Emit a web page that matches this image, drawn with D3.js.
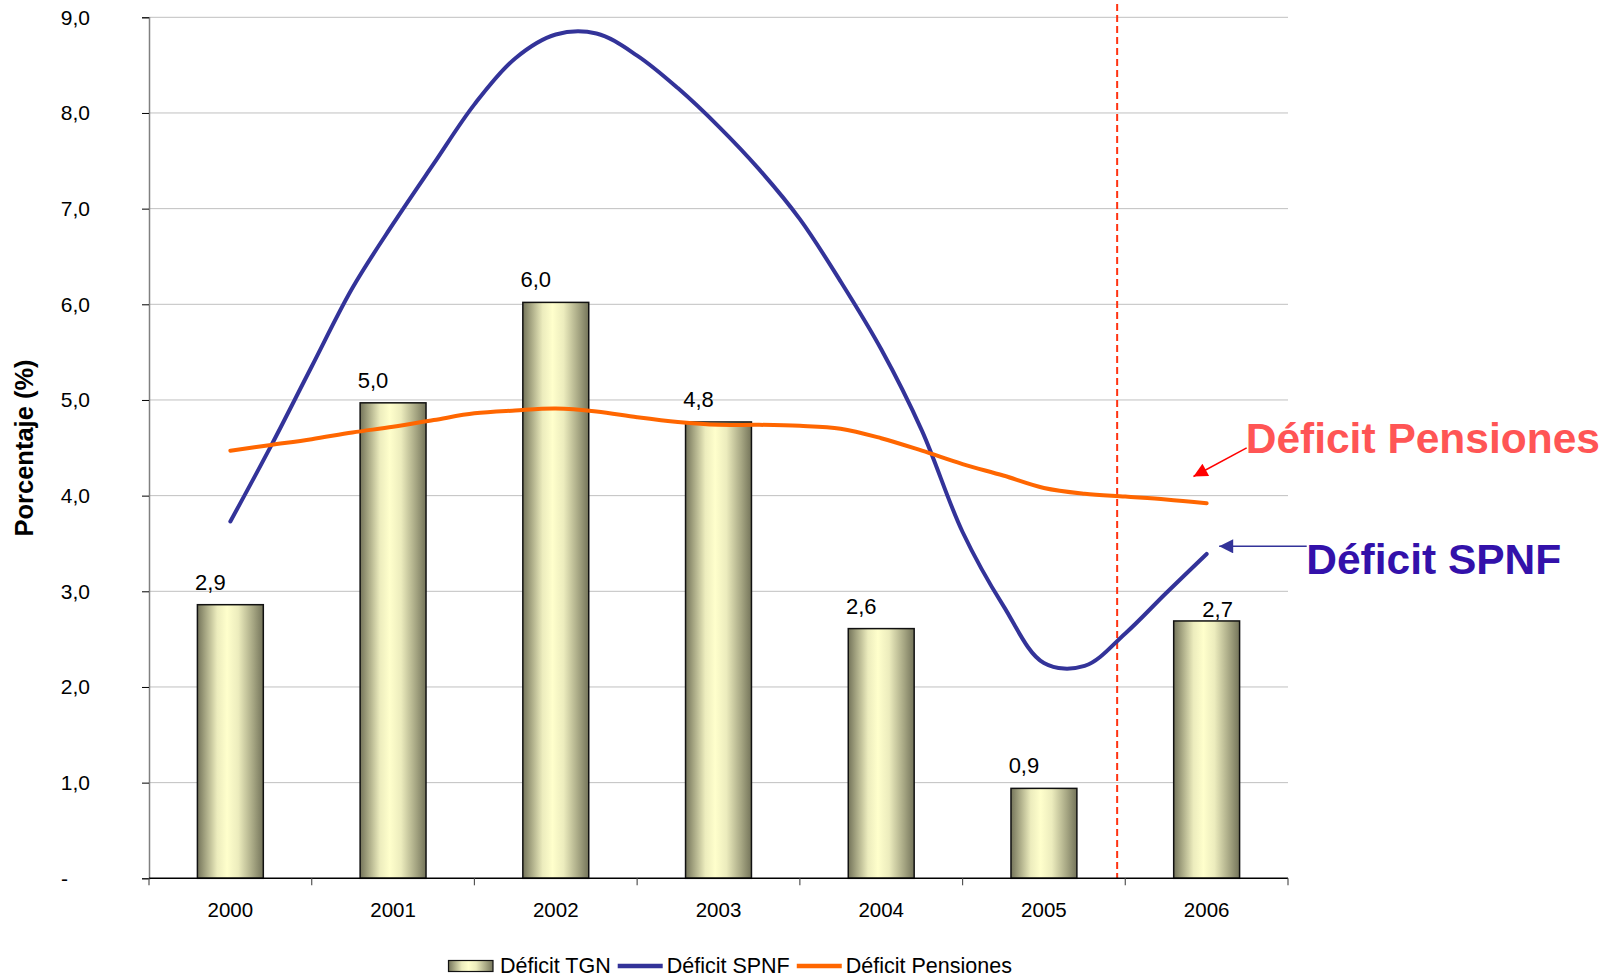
<!DOCTYPE html>
<html>
<head>
<meta charset="utf-8">
<script src="https://cdn.jsdelivr.net/npm/d3@7"></script>
<style>
  body { margin: 0; background: #ffffff; }
  svg { display: block; }
  text { font-family: "Liberation Sans", Arial, sans-serif; }
</style>
</head>
<body>
<svg id="chart" width="1618" height="978"></svg>
<script>
// Annual categories and the TGN deficit bars (% of GDP)
const years = ["2000", "2001", "2002", "2003", "2004", "2005", "2006"];
const deficitTGN = [2.86, 4.97, 6.02, 4.77, 2.61, 0.94, 2.69];

// Quarterly periods for the two smoothed lines
const periods = [
  2000, 2000.25, 2000.5, 2000.75,
  2001, 2001.25, 2001.5, 2001.75,
  2002, 2002.25, 2002.5, 2002.75,
  2003, 2003.25, 2003.5, 2003.75,
  2004, 2004.25, 2004.5, 2004.75,
  2005, 2005.25, 2005.5, 2005.75,
  2006
];
const deficitSPNF = [
  3.73, 4.52, 5.35, 6.17,
  6.84, 7.47, 8.09, 8.57,
  8.82, 8.83, 8.60, 8.26,
  7.86, 7.41, 6.89, 6.24,
  5.53, 4.68, 3.62, 2.85,
  2.25, 2.22, 2.56, 2.98,
  3.39
];
const deficitPensiones = [
  4.47, 4.53, 4.59, 4.66,
  4.72, 4.79, 4.86, 4.89,
  4.91, 4.88, 4.82, 4.77,
  4.74, 4.74, 4.73, 4.70,
  4.60, 4.47, 4.33, 4.21,
  4.08, 4.02, 3.99, 3.96,
  3.92
];

const yTicks = [0, 1, 2, 3, 4, 5, 6, 7, 8, 9];
const seriesNames = ["Déficit TGN", "Déficit SPNF", "Déficit Pensiones"];
const axisTitle = "Porcentaje (%)";
const cutoffYear = 2005.45;

const svg = d3.select("#chart");
const W = 1618, H = 978;
svg.append("rect").attr("width", W).attr("height", H).attr("fill", "#ffffff");

const plot = { left: 149, right: 1288, top: 17.3, bottom: 878.3 };

const x = d3.scaleBand().domain(years).range([plot.left, plot.right]).paddingInner(0).paddingOuter(0);
const bw = x.bandwidth();
const xYear = d3.scaleLinear()
  .domain([2000, 2006])
  .range([x("2000") + bw / 2, x("2006") + bw / 2]);
const y = d3.scaleLinear().domain([0, 9]).range([plot.bottom, plot.top]);

const fmt = v => d3.format(".1f")(v).replace(".", ",");

// Bar fill: horizontal shading, dark olive edges with a pale yellow core
const defs = svg.append("defs");
const grad = defs.append("linearGradient").attr("id", "barShade")
  .attr("x1", "0%").attr("x2", "100%").attr("y1", "0%").attr("y2", "0%");
[[0, "#74745a"], [0.12, "#a5a582"], [0.3, "#ececbd"], [0.45, "#ffffcc"],
 [0.62, "#ececbd"], [0.85, "#a5a582"], [1, "#74745a"]]
  .forEach(([o, c]) => grad.append("stop").attr("offset", o).attr("stop-color", c));

// Horizontal gridlines
svg.append("g").selectAll("line")
  .data(yTicks.filter(d => d > 0))
  .join("line")
  .attr("x1", plot.left).attr("x2", plot.right)
  .attr("y1", d => y(d)).attr("y2", d => y(d))
  .attr("stroke", "#c0c0c0").attr("stroke-width", 1);

// Bars
const barW = bw * 0.405;
svg.append("g").selectAll("rect")
  .data(deficitTGN)
  .join("rect")
  .attr("x", (d, i) => x(years[i]) + bw / 2 - barW / 2)
  .attr("y", d => y(d))
  .attr("width", barW)
  .attr("height", d => y(0) - y(d))
  .attr("fill", "url(#barShade)")
  .attr("stroke", "#111111")
  .attr("stroke-width", 1.5);

// Bar value labels
const labelNudge = { "2006": [31, 11] };
svg.append("g").selectAll("text")
  .data(deficitTGN)
  .join("text")
  .attr("x", (d, i) => x(years[i]) + bw / 2 - 20 + (labelNudge[years[i]] ? labelNudge[years[i]][0] : 0))
  .attr("y", (d, i) => y(d) - 15 + (labelNudge[years[i]] ? labelNudge[years[i]][1] : 0))
  .attr("text-anchor", "middle")
  .attr("font-size", 22)
  .attr("fill", "#000")
  .text(d => fmt(d));

// Vertical dashed cutoff line
svg.append("line")
  .attr("x1", xYear(cutoffYear)).attr("x2", xYear(cutoffYear))
  .attr("y1", 4).attr("y2", plot.bottom)
  .attr("stroke", "#ff3311").attr("stroke-width", 2)
  .attr("stroke-dasharray", "7,4");

// Smoothed lines
const line = d3.line()
  .x((d, i) => xYear(periods[i]))
  .y(d => y(d))
  .curve(d3.curveCatmullRom.alpha(0.5));

svg.append("path").datum(deficitSPNF)
  .attr("d", line).attr("fill", "none")
  .attr("stroke", "#333399").attr("stroke-width", 4)
  .attr("stroke-linecap", "round").attr("stroke-linejoin", "round");

svg.append("path").datum(deficitPensiones)
  .attr("d", line).attr("fill", "none")
  .attr("stroke", "#ff6600").attr("stroke-width", 4)
  .attr("stroke-linecap", "round").attr("stroke-linejoin", "round");

// Y axis
const yAxis = svg.append("g")
  .attr("transform", `translate(${plot.left},0)`)
  .call(d3.axisLeft(y).tickValues(yTicks).tickSize(7).tickPadding(52)
    .tickFormat(d => d === 0 ? "-" : fmt(d)));
yAxis.select(".domain").attr("stroke", "#808080").attr("stroke-width", 1.5);
yAxis.selectAll(".tick line").attr("stroke", "#000");
yAxis.selectAll(".tick text")
  .attr("font-family", "Liberation Sans, Arial, sans-serif")
  .attr("font-size", 21).attr("fill", "#000");
yAxis.selectAll(".tick").filter(d => d === 0).select("text")
  .attr("text-anchor", "start").attr("x", -88);

// X axis line, boundary ticks and year labels
svg.append("line")
  .attr("x1", plot.left).attr("x2", plot.right)
  .attr("y1", y(0)).attr("y2", y(0))
  .attr("stroke", "#000").attr("stroke-width", 1.5);
const boundaries = years.map(yr => x(yr)).concat([x.range()[1]]);
svg.append("g").selectAll("line")
  .data(boundaries)
  .join("line")
  .attr("x1", d => d).attr("x2", d => d)
  .attr("y1", y(0)).attr("y2", y(0) + 7)
  .attr("stroke", "#555").attr("stroke-width", 1.2);
svg.append("g").selectAll("text")
  .data(years)
  .join("text")
  .attr("x", d => x(d) + bw / 2)
  .attr("y", 917)
  .attr("text-anchor", "middle")
  .attr("font-size", 20.5)
  .attr("fill", "#000")
  .text(d => d);

// Y axis title
svg.append("text")
  .attr("transform", `translate(33,448) rotate(-90)`)
  .attr("text-anchor", "middle")
  .attr("font-size", 25.5)
  .attr("font-weight", "bold")
  .attr("fill", "#000")
  .text(axisTitle);

// Callout annotations
defs.append("marker").attr("id", "headRed")
  .attr("viewBox", "0 0 10 10").attr("refX", 10).attr("refY", 5)
  .attr("markerUnits", "userSpaceOnUse")
  .attr("markerWidth", 17).attr("markerHeight", 14)
  .attr("orient", "auto")
  .append("path").attr("d", "M0,0 L10,5 L0,10 Z").attr("fill", "#ff0000");
defs.append("marker").attr("id", "headBlue")
  .attr("viewBox", "0 0 10 10").attr("refX", 10).attr("refY", 5)
  .attr("markerUnits", "userSpaceOnUse")
  .attr("markerWidth", 15).attr("markerHeight", 14)
  .attr("orient", "auto")
  .append("path").attr("d", "M0,0 L10,5 L0,10 Z").attr("fill", "#333399");

svg.append("line")
  .attr("x1", xYear(2006.246)).attr("y1", y(4.50))
  .attr("x2", xYear(2005.919)).attr("y2", y(4.20))
  .attr("stroke", "#ff0000").attr("stroke-width", 1.5)
  .attr("marker-end", "url(#headRed)");
svg.append("text")
  .attr("x", xYear(2006.240)).attr("y", y(4.445))
  .attr("font-size", 42.5).attr("font-weight", "bold")
  .attr("fill", "#ff5555")
  .text(seriesNames[2]);

svg.append("line")
  .attr("x1", xYear(2006.615)).attr("y1", y(3.47))
  .attr("x2", xYear(2006.077)).attr("y2", y(3.47))
  .attr("stroke", "#333399").attr("stroke-width", 1.5)
  .attr("marker-end", "url(#headBlue)");
svg.append("text")
  .attr("x", xYear(2006.612)).attr("y", y(3.18))
  .attr("font-size", 42.5).attr("font-weight", "bold")
  .attr("fill", "#3311aa")
  .text(seriesNames[1]);

// Legend
const legend = svg.append("g").attr("font-size", 21.5);
let lx = 448.5;
const ly = 966;
legend.append("rect")
  .attr("x", lx).attr("y", ly - 5.5).attr("width", 44.5).attr("height", 11)
  .attr("fill", "url(#barShade)").attr("stroke", "#111").attr("stroke-width", 1.2);
lx += 44.5 + 7;
let t = legend.append("text").attr("x", lx).attr("y", ly + 7).attr("fill", "#000").text(seriesNames[0]);
lx += t.node().getComputedTextLength() + 7;
[["#333399", seriesNames[1]], ["#ff6600", seriesNames[2]]].forEach(([c, name]) => {
  legend.append("line")
    .attr("x1", lx).attr("x2", lx + 45).attr("y1", ly).attr("y2", ly)
    .attr("stroke", c).attr("stroke-width", 4.5);
  lx += 45 + 4;
  const tt = legend.append("text").attr("x", lx).attr("y", ly + 7).attr("fill", "#000").text(name);
  lx += tt.node().getComputedTextLength() + 7;
});
</script>
</body>
</html>
